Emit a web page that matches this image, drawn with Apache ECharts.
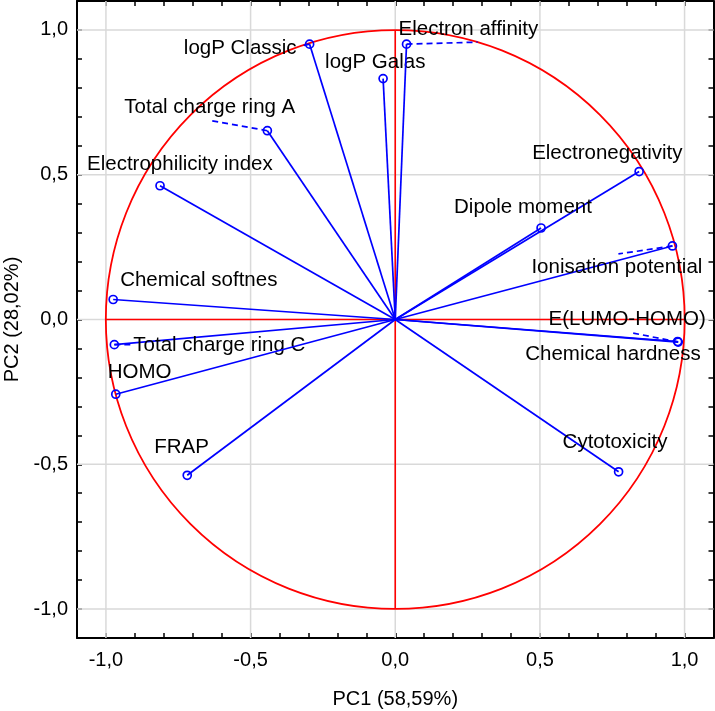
<!DOCTYPE html>
<html>
<head>
<meta charset="utf-8">
<script src="https://cdn.jsdelivr.net/npm/echarts@6/dist/echarts.min.js"></script>
<style>
html,body{margin:0;padding:0;background:#fff;}
#chart{width:715px;height:711px;}
</style>
</head>
<body>
<div id="chart"></div>
<script>
// ---- data ----
const variables = ['logP Classic','logP Galas','Electron affinity','Total charge ring A','Electrophilicity index',
  'Electronegativity','Dipole moment','Ionisation potential','E(LUMO-HOMO)','Chemical hardness',
  'Chemical softnes','Total charge ring C','HOMO','FRAP','Cytotoxicity'];
const pc1 = [-0.296,-0.042,0.039,-0.442,-0.813,0.843,0.504,0.958,0.976,0.978,-0.975,-0.971,-0.966,-0.719,0.772];
const pc2 = [0.951,0.832,0.951,0.652,0.462,0.511,0.316,0.254,-0.076,-0.078,0.069,-0.087,-0.258,-0.538,-0.526];
const tickValues = [-1.0,-0.5,0.0,0.5,1.0];
const tickLabels = ['-1,0','-0,5','0,0','0,5','1,0'];
const xName = 'PC1 (58,59%)';
const yName = 'PC2 (28,02%)';

// ---- layout (pixel offsets of labels / leaders relative to each point) ----
const labelLayout = [
  {dx:-13,dy:4,align:'right',lead:[-9,2]},
  {dx:-58,dy:-16,align:'left'},
  {dx:-8,dy:-15,align:'left',lead:[71,-2]},
  {dx:-143,dy:-23,align:'left',lead:[-56,-10]},
  {dx:-73,dy:-21,align:'left'},
  {dx:-107,dy:-18,align:'left'},
  {dx:-87,dy:-21,align:'left'},
  {dx:-141,dy:21,align:'left',lead:[-54,8]},
  {dx:-129,dy:-22,align:'left'},
  {dx:-153,dy:12,align:'left',lead:[-45,-9]},
  {dx:7,dy:-19,align:'left'},
  {dx:19,dy:1,align:'left',lead:[16,0]},
  {dx:-8,dy:-22,align:'left'},
  {dx:-33,dy:-28,align:'left'},
  {dx:-56,dy:-29,align:'left'}
];

const FONT = 'Liberation Sans, Arial, sans-serif';
const BLUE = '#0000ff';
const RED = '#ff0000';

function fmtTick(v){
  for (let i=0;i<tickValues.length;i++){
    if (Math.abs(v - tickValues[i]) < 1e-6) return tickLabels[i];
  }
  return '';
}

const vectorData = pc1.map((x,i)=>[x,pc2[i],i]);

function renderVector(params, api){
  const i = api.value(2);
  const o = api.coord([0,0]);
  const p = api.coord([api.value(0), api.value(1)]);
  const lay = labelLayout[i];
  const children = [
    {type:'line', shape:{x1:o[0],y1:o[1],x2:p[0],y2:p[1]}, style:{stroke:BLUE,lineWidth:1.7}},
    {type:'circle', shape:{cx:p[0],cy:p[1],r:4}, style:{fill:'none',stroke:BLUE,lineWidth:1.7}},
    {type:'text', x:p[0]+lay.dx, y:p[1]+lay.dy,
      style:{text:variables[i], fill:'#000', font:'20.5px '+FONT, align:lay.align, verticalAlign:'middle'}}
  ];
  if (lay.lead){
    children.push({type:'line', shape:{x1:p[0],y1:p[1],x2:p[0]+lay.lead[0],y2:p[1]+lay.lead[1]},
      style:{stroke:BLUE,lineWidth:1.7,lineDash:[6,4]}});
  }
  return {type:'group', children};
}

function renderGrid(params, api){
  const v = api.value(0);
  const a = api.coord([v,-1.1]);
  const b = api.coord([v,1.1]);
  const c = api.coord([-1.1,v]);
  const d = api.coord([1.1,v]);
  return {type:'group', children:[
    {type:'line', shape:{x1:a[0],y1:a[1],x2:b[0],y2:b[1]}, style:{stroke:'#d9d9d9',lineWidth:1.5}},
    {type:'line', shape:{x1:c[0],y1:c[1],x2:d[0],y2:d[1]}, style:{stroke:'#d9d9d9',lineWidth:1.5}}
  ]};
}

function renderCircle(params, api){
  const c = api.coord([0,0]);
  const r = api.size([1,1]);
  const l = api.coord([-1,0]), rr = api.coord([1,0]);
  const t = api.coord([0,1]), b = api.coord([0,-1]);
  return {type:'group', children:[
    {type:'circle', shape:{cx:c[0],cy:c[1],r:(r[0]+r[1])/2}, style:{fill:'none',stroke:RED,lineWidth:1.8}},
    {type:'line', shape:{x1:l[0],y1:l[1],x2:rr[0],y2:rr[1]}, style:{stroke:RED,lineWidth:1.6}},
    {type:'line', shape:{x1:t[0],y1:t[1],x2:b[0],y2:b[1]}, style:{stroke:RED,lineWidth:1.6}}
  ]};
}

const axisCommon = {
  type:'value', min:-1.1, max:1.1, interval:0.1,
  axisLine:{show:true, onZero:false, lineStyle:{color:'#000',width:2}},
  axisTick:{show:true, inside:true, length:5, lineStyle:{color:'#000',width:1.5}},
  splitLine:{show:false}
};

const chart = echarts.init(document.getElementById('chart'), null, {renderer:'canvas'});
chart.setOption({
  backgroundColor:'#fff',
  animation:false,
  grid:{left:77, right:1.5, top:1, bottom:73, containLabel:false, outerBoundsMode:'none'},
  xAxis:[
    Object.assign({}, axisCommon, {position:'bottom',
      name:xName, nameLocation:'middle', nameGap:51,
      nameTextStyle:{fontFamily:FONT,fontSize:20,color:'#000'},
      axisLabel:{formatter:fmtTick, fontFamily:FONT, fontSize:20, color:'#000', margin:12, showMinLabel:true, showMaxLabel:true}}),
    Object.assign({}, axisCommon, {position:'top', axisLabel:{show:false}})
  ],
  yAxis:[
    Object.assign({}, axisCommon, {position:'left',
      name:yName, nameLocation:'middle', nameGap:50,
      nameTextStyle:{fontFamily:FONT,fontSize:20,color:'#000'},
      axisLabel:{formatter:fmtTick, fontFamily:FONT, fontSize:20, color:'#000', margin:9}}),
    Object.assign({}, axisCommon, {position:'right', axisLabel:{show:false}})
  ],
  series:[
    {type:'custom', renderItem:renderGrid, data:tickValues.map(v=>[v,v]), silent:true, z:1, clip:false},
    {type:'custom', renderItem:renderCircle, data:[[0,0]], silent:true, z:2, clip:false},
    {type:'custom', renderItem:renderVector, data:vectorData, z:3, clip:false}
  ]
});
</script>
</body>
</html>
